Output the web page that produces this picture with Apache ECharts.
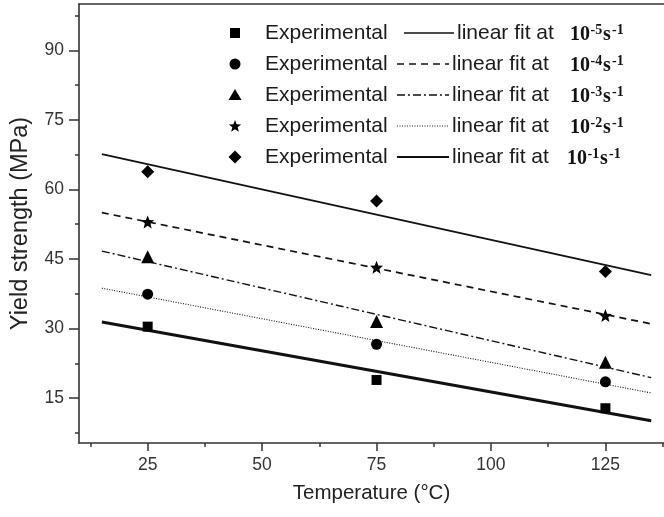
<!DOCTYPE html>
<html><head><meta charset="utf-8">
<script src="https://cdn.jsdelivr.net/npm/echarts@6/dist/echarts.min.js"></script>
<style>html,body{margin:0;padding:0;background:#fff}#c{width:664px;height:517px}</style>
</head><body><div id="c"></div>
<script>
// ---- data ----
const temperatures = [25, 75, 125];
const yield_1e5 = [30.4, 18.9, 12.8];   // squares
const yield_1e4 = [37.4, 26.6, 18.5];   // circles
const yield_1e3 = [45.5, 31.5, 22.7];   // triangles
const yield_1e2 = [53.0, 43.2, 32.8];   // stars
const yield_1e1 = [63.8, 57.5, 42.3];   // diamonds

const fitTemps = [15, 135];
const fit_1e5 = [31.4, 10.1];
const fit_1e4 = [38.7, 16.1];
const fit_1e3 = [46.7, 19.4];
const fit_1e2 = [55.0, 31.0];
const fit_1e1 = [67.6, 41.5];

const xTicks = [25, 50, 75, 100, 125];
const xMinorTicks = [12.5, 37.5, 62.5, 87.5, 112.5, 137.5];
const yTicks = [15, 30, 45, 60, 75, 90];
const yMinorTicks = [7.5, 22.5, 37.5, 52.5, 67.5, 82.5, 97.5];

const legendLabel = 'Experimental';
const legendFitLabel = 'linear fit at';
const legendRates = ['-5', '-4', '-3', '-2', '-1'];

// ---- styles ----
const STAR = 'path://M0,-10 L2.6,-3.4 L9.5,-3.1 L4.1,1.3 L5.9,8.1 L0,4.3 L-5.9,8.1 L-4.1,1.3 L-9.5,-3.1 L-2.6,-3.4 Z';
const lineKinds = {
  thin:   { width: 1.7, dash: null },
  dashed: { width: 1.7, dash: [7, 5] },
  dashdot:{ width: 1.4, dash: [8, 3, 2, 3] },
  dotted: { width: 1.1, dash: [1, 1.5] },
  thick:  { width: 3.0, dash: null }
};

const groups = [
  { ys: yield_1e5, fit: fit_1e5, symbol: 'rect',     size: 10, plotLine: 'thick',   legendLine: 'thin' },
  { ys: yield_1e4, fit: fit_1e4, symbol: 'circle',   size: 11, plotLine: 'dotted',  legendLine: 'dashed' },
  { ys: yield_1e3, fit: fit_1e3, symbol: 'triangle', size: 13, plotLine: 'dashdot', legendLine: 'dashdot' },
  { ys: yield_1e2, fit: fit_1e2, symbol: STAR,       size: 13, plotLine: 'dashed',  legendLine: 'dotted' },
  { ys: yield_1e1, fit: fit_1e1, symbol: 'diamond',  size: 13, plotLine: 'thin',    legendLine: 'thick' }
];

const series = [];
groups.forEach((g, i) => {
  const lk = lineKinds[g.plotLine];
  series.push({
    type: 'line', name: 'fit' + i, showSymbol: false, silent: true,
    data: fitTemps.map((t, k) => [t, g.fit[k]]),
    lineStyle: { color: '#111', width: lk.width, type: lk.dash || 'solid' },
    z: 2
  });
  series.push({
    type: 'scatter', name: 'exp' + i, symbol: g.symbol, symbolSize: g.size,
    data: temperatures.map((t, k) => [t, g.ys[k]]),
    itemStyle: { color: '#000', opacity: 1 }, z: 3
  });
});

// ---- legend (graphic) ----
const rowY = [33, 64, 95, 126, 157];
const symX = 235;
const graphics = [];
function starPoints(cx, cy, R, r) {
  const pts = [];
  for (let k = 0; k < 10; k++) {
    const a = -Math.PI / 2 + k * Math.PI / 5;
    const rad = k % 2 === 0 ? R : r;
    pts.push([cx + rad * Math.cos(a), cy + rad * Math.sin(a)]);
  }
  return pts;
}
const legendFont = '21px "Liberation Sans", Arial, sans-serif';
const serifBig = 'bold 20px "Liberation Serif", "DejaVu Serif", serif';
const serifSmall = 'bold 14px "Liberation Serif", "DejaVu Serif", serif';
groups.forEach((g, i) => {
  const y = rowY[i];
  let el;
  if (g.symbol === 'rect') el = { type: 'rect', shape: { x: symX - 5, y: y - 5, width: 10, height: 10 } };
  else if (g.symbol === 'circle') el = { type: 'circle', shape: { cx: symX, cy: y, r: 5.5 } };
  else if (g.symbol === 'triangle') el = { type: 'polygon', shape: { points: [[symX, y - 6], [symX + 6.5, y + 5], [symX - 6.5, y + 5]] } };
  else if (g.symbol === 'diamond') el = { type: 'polygon', shape: { points: [[symX, y - 6.5], [symX + 6.5, y], [symX, y + 6.5], [symX - 6.5, y]] } };
  else el = { type: 'polygon', shape: { points: starPoints(symX, y + 0.5, 6.5, 2.8) } };
  el.style = { fill: '#000' };
  graphics.push(el);

  graphics.push({ type: 'text', style: { x: 265, y: y, text: legendLabel, fill: '#1a1a1a',
    font: legendFont, verticalAlign: 'middle', align: 'left' } });

  const lk = lineKinds[g.legendLine];
  const x1 = i === 0 ? 404 : 397, x2 = i === 0 ? 454 : 449;
  graphics.push({ type: 'line', shape: { x1: x1, y1: y, x2: x2, y2: y },
    style: { stroke: '#111', lineWidth: i === 4 ? 2.2 : lk.width, lineDash: lk.dash } });

  graphics.push({ type: 'text', style: { x: i === 0 ? 457 : 452, y: y, text: legendFitLabel, fill: '#1a1a1a',
    font: legendFont, verticalAlign: 'middle', align: 'left' } });

  // rate label: 10^rate s^-1, superscripts drawn as separate smaller text
  const rx = i === 4 ? 567 : 570;
  graphics.push({ type: 'text', style: { x: rx, y: y + 2, text: '10', fill: '#111', font: serifBig, verticalAlign: 'middle', align: 'left' } });
  graphics.push({ type: 'text', style: { x: rx + 20.5, y: y - 3, text: legendRates[i], fill: '#111', font: serifSmall, verticalAlign: 'middle', align: 'left' } });
  graphics.push({ type: 'text', style: { x: rx + 33, y: y + 2, text: 's', fill: '#111', font: serifBig, verticalAlign: 'middle', align: 'left' } });
  graphics.push({ type: 'text', style: { x: rx + 42, y: y - 3, text: '-1', fill: '#111', font: serifSmall, verticalAlign: 'middle', align: 'left' } });
});

const axisColor = '#333';
const labelFont = { color: '#333', fontSize: 17.5, fontFamily: '"Liberation Sans", Arial, sans-serif' };
const X_MIN = 10, X_MAX = 137.8, Y_MIN = 5.3, Y_MAX = 100;

const option = {
  animation: false,
  backgroundColor: '#fff',
  grid: { left: 79, right: 0, top: 4, bottom: 74 },
  xAxis: [
    { type: 'value', position: 'bottom', min: X_MIN, max: X_MAX,
      name: 'Temperature (°C)', nameLocation: 'middle', nameGap: 40,
      nameTextStyle: { color: '#222', fontSize: 20.5, fontFamily: '"Liberation Sans", Arial, sans-serif' },
      axisLine: { show: true, lineStyle: { color: axisColor, width: 1.6 } },
      axisTick: { show: true, inside: false, length: 8, customValues: xTicks, lineStyle: { color: axisColor, width: 1.5 } },
      axisLabel: { show: true, customValues: xTicks, margin: 13, ...labelFont },
      splitLine: { show: false } },
    { type: 'value', position: 'bottom', min: X_MIN, max: X_MAX,
      axisLine: { show: false },
      axisTick: { show: true, inside: false, length: 4, customValues: xMinorTicks, lineStyle: { color: axisColor, width: 1.5 } },
      axisLabel: { show: false }, splitLine: { show: false } },
    { type: 'value', position: 'top', min: X_MIN, max: X_MAX,
      axisLine: { show: true, lineStyle: { color: axisColor, width: 1.6 } },
      axisTick: { show: false }, axisLabel: { show: false }, splitLine: { show: false } }
  ],
  yAxis: [
    { type: 'value', position: 'left', min: Y_MIN, max: Y_MAX,
      name: 'Yield strength (MPa)', nameLocation: 'middle', nameGap: 46,
      nameTextStyle: { color: '#222', fontSize: 23.5, fontFamily: '"Liberation Sans", Arial, sans-serif' },
      axisLine: { show: true, lineStyle: { color: axisColor, width: 1.6 } },
      axisTick: { show: true, inside: false, length: 10, customValues: yTicks, lineStyle: { color: axisColor, width: 1.5 } },
      axisLabel: { show: true, customValues: yTicks, margin: 15, ...labelFont },
      splitLine: { show: false } },
    { type: 'value', position: 'left', min: Y_MIN, max: Y_MAX,
      axisLine: { show: false },
      axisTick: { show: true, inside: false, length: 4, customValues: yMinorTicks, lineStyle: { color: axisColor, width: 1.5 } },
      axisLabel: { show: false }, splitLine: { show: false } }
  ],
  series: series,
  graphic: graphics
};

const chart = echarts.init(document.getElementById('c'), null, { renderer: 'canvas' });
chart.setOption(option);
</script>
</body></html>
